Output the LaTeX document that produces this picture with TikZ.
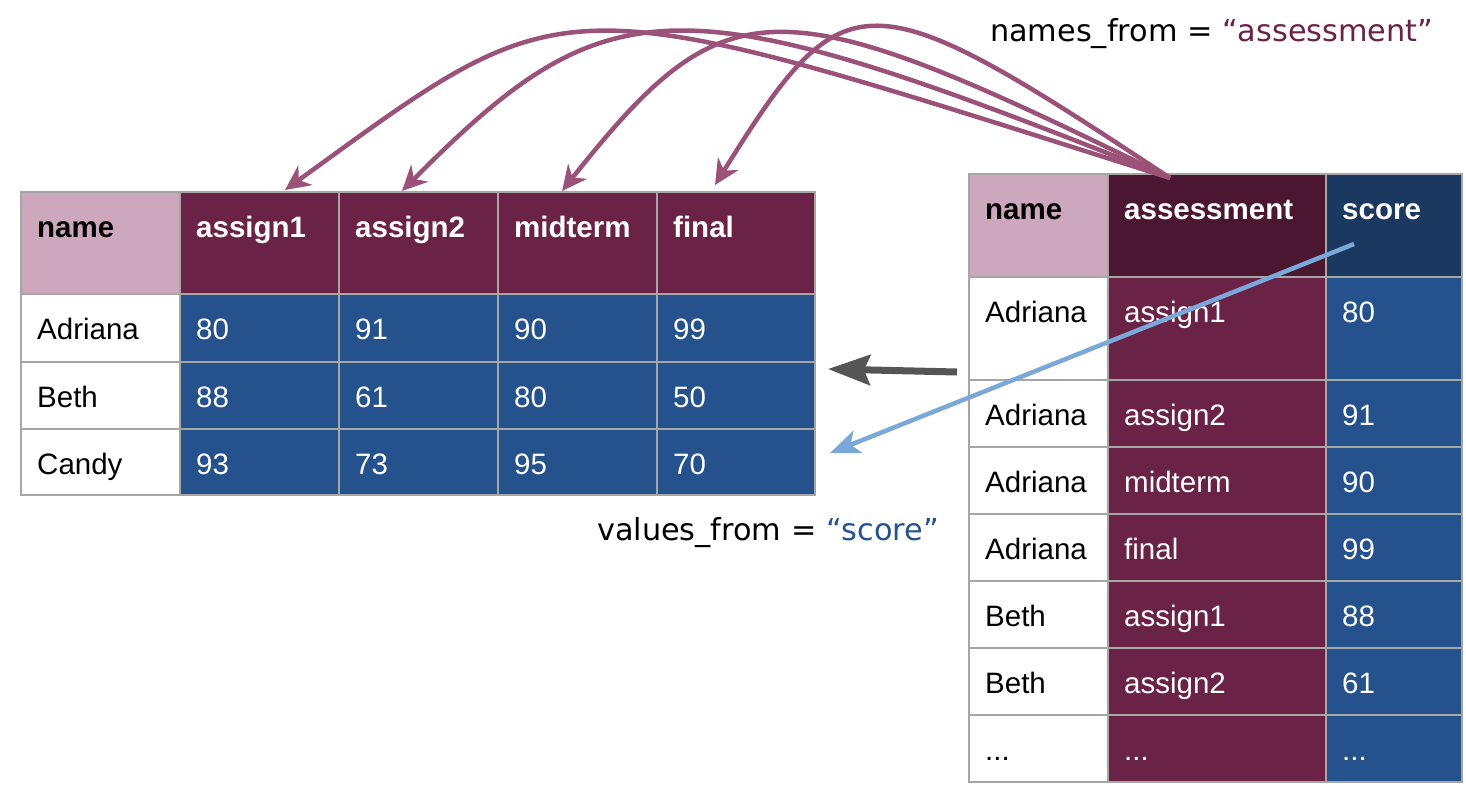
\documentclass[tikz,border=0pt]{standalone}
\usepackage{fontspec}
\setmainfont{Liberation Sans}
\newfontfamily\labfont{DejaVu Sans}
\usetikzlibrary{arrows.meta,calc}
\definecolor{pinkhdr}{HTML}{CDA7BC}
\definecolor{maroon}{HTML}{6A2247}
\definecolor{darkmaroon}{HTML}{4A1630}
\definecolor{navy}{HTML}{1B3861}
\definecolor{tblue}{HTML}{25528D}
\definecolor{cellborder}{HTML}{A6A6A6}
\definecolor{curvecol}{HTML}{9B5279}
\definecolor{lightblue}{HTML}{7BA7D9}
\definecolor{darkgray}{HTML}{555555}
\newcommand\tabfont{\fontsize{29.5}{32}\selectfont}
\newcommand\lblfont{\labfont\fontsize{30.3}{32}\selectfont}
\tikzset{
  cellbox/.style={draw=cellborder, line width=1.5pt, inner sep=0pt, outer sep=0pt, anchor=north west},
  boxhp/.style={fill=pinkhdr}, txthp/.style={text=black, font=\tabfont\bfseries},
  boxhm/.style={fill=maroon}, txthm/.style={text=white, font=\tabfont\bfseries},
  boxhd/.style={fill=darkmaroon}, txthd/.style={text=white, font=\tabfont\bfseries},
  boxhn/.style={fill=navy}, txthn/.style={text=white, font=\tabfont\bfseries},
  boxdw/.style={fill=white}, txtdw/.style={text=black, font=\tabfont},
  boxdm/.style={fill=maroon}, txtdm/.style={text=white, font=\tabfont},
  boxdb/.style={fill=tblue}, txtdb/.style={text=white, font=\tabfont},
  curvearrow/.style={draw=curvecol, line width=4.5pt, -{Stealth[length=25pt,width=24pt,inset=8pt]}},
  lbl/.style={anchor=base west, inner sep=0pt, font=\lblfont}
}
\newcommand\tcell[7]{%
  \pgfmathsetmacro\cw{#4-#2}\pgfmathsetmacro\ch{#5-#3}%
  \node[cellbox, box#6, minimum width=\cw pt, minimum height=\ch pt] (#1) at (#2,#3) {};
  \node[anchor=base west, inner sep=0pt, txt#6] (#1-t) at ($(#1.north west)+(16,45)$) {#7};%
}
\begin{document}
\begin{tikzpicture}[x=1pt,y=-1pt]
\useasboundingbox (0,0) rectangle (1466,790);
% ---------- left (wide) table ----------
\tcell{L00}{21}{192}{180}{294}{hp}{name}
\tcell{L01}{180}{192}{339}{294}{hm}{assign1}
\tcell{L02}{339}{192}{498}{294}{hm}{assign2}
\tcell{L03}{498}{192}{657}{294}{hm}{midterm}
\tcell{L04}{657}{192}{815}{294}{hm}{final}
\tcell{L10}{21}{294}{180}{362}{dw}{Adriana}
\tcell{L11}{180}{294}{339}{362}{db}{80}
\tcell{L12}{339}{294}{498}{362}{db}{91}
\tcell{L13}{498}{294}{657}{362}{db}{90}
\tcell{L14}{657}{294}{815}{362}{db}{99}
\tcell{L20}{21}{362}{180}{429}{dw}{Beth}
\tcell{L21}{180}{362}{339}{429}{db}{88}
\tcell{L22}{339}{362}{498}{429}{db}{61}
\tcell{L23}{498}{362}{657}{429}{db}{80}
\tcell{L24}{657}{362}{815}{429}{db}{50}
\tcell{L30}{21}{429}{180}{495}{dw}{Candy}
\tcell{L31}{180}{429}{339}{495}{db}{93}
\tcell{L32}{339}{429}{498}{495}{db}{73}
\tcell{L33}{498}{429}{657}{495}{db}{95}
\tcell{L34}{657}{429}{815}{495}{db}{70}
% ---------- right (long) table ----------
\tcell{R00}{969}{174}{1108}{277}{hp}{name}
\tcell{R01}{1108}{174}{1326}{277}{hd}{assessment}
\tcell{R02}{1326}{174}{1462}{277}{hn}{score}
\tcell{R10}{969}{277}{1108}{380}{dw}{Adriana}
\tcell{R11}{1108}{277}{1326}{380}{dm}{assign1}
\tcell{R12}{1326}{277}{1462}{380}{db}{80}
\tcell{R20}{969}{380}{1108}{447}{dw}{Adriana}
\tcell{R21}{1108}{380}{1326}{447}{dm}{assign2}
\tcell{R22}{1326}{380}{1462}{447}{db}{91}
\tcell{R30}{969}{447}{1108}{514}{dw}{Adriana}
\tcell{R31}{1108}{447}{1326}{514}{dm}{midterm}
\tcell{R32}{1326}{447}{1462}{514}{db}{90}
\tcell{R40}{969}{514}{1108}{581}{dw}{Adriana}
\tcell{R41}{1108}{514}{1326}{581}{dm}{final}
\tcell{R42}{1326}{514}{1462}{581}{db}{99}
\tcell{R50}{969}{581}{1108}{648}{dw}{Beth}
\tcell{R51}{1108}{581}{1326}{648}{dm}{assign1}
\tcell{R52}{1326}{581}{1462}{648}{db}{88}
\tcell{R60}{969}{648}{1108}{715}{dw}{Beth}
\tcell{R61}{1108}{648}{1326}{715}{dm}{assign2}
\tcell{R62}{1326}{648}{1462}{715}{db}{61}
\tcell{R70}{969}{715}{1108}{782}{dw}{...}
\tcell{R71}{1108}{715}{1326}{782}{dm}{...}
\tcell{R72}{1326}{715}{1462}{782}{db}{...}
% ---------- labels ----------
\node[lbl] (namesfrom) at (990,41) {names\_from = \textcolor{maroon}{“assessment”}};
\node[lbl] (valuesfrom) at (597,540) {values\_from = \textcolor{tblue}{“score”}};
% ---------- connectors ----------
\coordinate (src) at (1170,178);
\coordinate (t1) at (285,190);
\coordinate (t2) at (402,191);
\coordinate (t3) at (562,191);
\coordinate (t4) at (715,185);
\draw[curvearrow] (src) .. controls (549,-19) and (574,-19) .. (t1);
\draw[curvearrow] (src) .. controls (678,-19) and (611,-19) .. (t2);
\draw[curvearrow] (src) .. controls (775,-17) and (727,-17) .. (t3);
\draw[curvearrow] (src) .. controls (865,-24) and (845,-24) .. (t4);
\coordinate (gs) at (957,372);
\coordinate (ge) at (828,369);
\draw[darkgray, line width=7pt, -{Stealth[length=42pt,width=30pt,inset=6pt]}] (gs) -- (ge);
\coordinate (bs) at (1354,244);
\coordinate (be) at (830,453);
\draw[lightblue, line width=4.5pt, -{Stealth[length=30pt,width=24pt,inset=8pt]}] (bs) -- (be);
\end{tikzpicture}
\end{document}
